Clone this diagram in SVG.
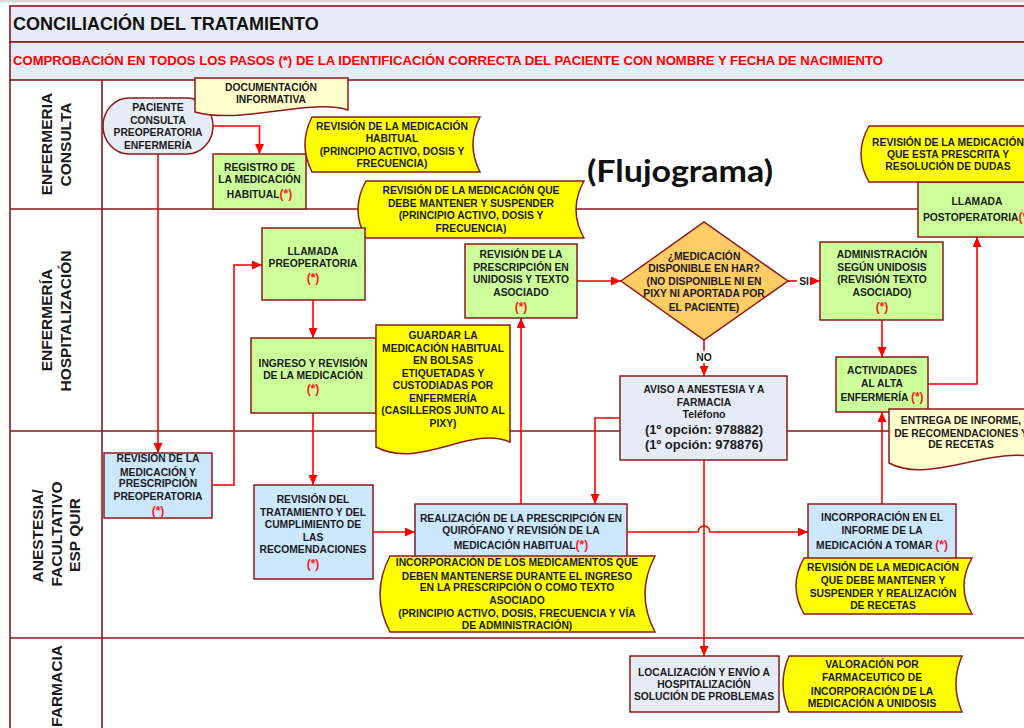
<svg xmlns="http://www.w3.org/2000/svg" width="1024" height="728" viewBox="0 0 1024 728">
<defs>
<style>
.fr{stroke:#8B1A1A;stroke-width:1.6;fill:none}
.n{stroke:#8B1A1A;stroke-width:1.5}
.g{fill:#CCFF99}.b{fill:#CCE8FF}.p{fill:#E6ECF6}.y{fill:#FFFF00}.ly{fill:#FFFFCC}.o{fill:#FFCC66}
text{font-family:"Liberation Sans",Arial,sans-serif;font-weight:bold}
.t{font-size:10.3px;fill:#1a1a1a;text-anchor:middle}
.r{fill:#FF1A1A;font-size:12px}
.big{font-size:13px}
.tel{font-size:10.5px}
.lane{font-size:15.5px;fill:#1a1a1a;text-anchor:middle}
.flu{font-family:Lato,"Open Sans",sans-serif;font-size:30px;fill:#111}
.c{stroke:#FF0000;stroke-width:1.6;fill:none;marker-end:url(#ah)}
</style>
<marker id="ah" markerUnits="userSpaceOnUse" markerWidth="10" markerHeight="9" refX="10" refY="4.5" orient="auto">
<path d="M0,0 L10,4.5 L0,9 Z" fill="#FF0000"/>
</marker>
</defs>
<rect x="0" y="0" width="1024" height="728" fill="#FFFFFF"/>
<rect x="0" y="0" width="1024" height="2.5" fill="#D9D9D9"/>

<g id="frame">
<rect x="10" y="6" width="1030" height="36" class="p" stroke="#8B1A1A" stroke-width="1.6"/>
<rect x="10" y="42" width="1030" height="38" class="p" stroke="#8B1A1A" stroke-width="1.6"/>
<text x="13" y="30" font-size="18" fill="#111">CONCILIACIÓN DEL TRATAMIENTO</text>
<text x="13" y="65" font-size="13" fill="#FF0000" textLength="870" lengthAdjust="spacingAndGlyphs">COMPROBACIÓN EN TODOS LOS PASOS (*) DE LA IDENTIFICACIÓN CORRECTA DEL PACIENTE CON NOMBRE Y FECHA DE NACIMIENTO</text>
<path class="fr" d="M10,80 V728 M102,80 V728 M10,209 H1040 M10,431 H1040 M10,638 H1040"/>
<text class="lane" transform="translate(52,144) rotate(-90)">ENFERMERIA</text>
<text class="lane" transform="translate(71,144.5) rotate(-90)">CONSULTA</text>
<text class="lane" transform="translate(52,320) rotate(-90)">ENFERMERÍA</text>
<text class="lane" transform="translate(71,321) rotate(-90)">HOSPITALIZACIÓN</text>
<text class="lane" transform="translate(43,536) rotate(-90)">ANESTESIA/</text>
<text class="lane" transform="translate(62,534) rotate(-90)">FACULTATIVO</text>
<text class="lane" transform="translate(80,535) rotate(-90)">ESP QUIR</text>
<text class="lane" transform="translate(62,686) rotate(-90)">FARMACIA</text>
<text class="flu" x="587" y="182" textLength="186" lengthAdjust="spacingAndGlyphs">(Flujograma)</text>
</g>

<g id="connectors">
<path class="c" d="M213,126 H259.5 V154"/>
<path class="c" d="M158,154 V453"/>
<path class="c" d="M212,485 H234 V265 H262"/>
<path class="c" d="M313,300 V338"/>
<path class="c" d="M313,413 V485"/>
<path class="c" d="M373,532 H415"/>
<path class="c" d="M521,504 V318"/>
<path class="c" d="M577,281 H621"/>
<path class="c" d="M788,281 H820"/>
<path class="c" d="M704,340 V376"/>
<path class="c" d="M620,418 H595 V504"/>
<path class="c" d="M704,460 V656"/>
<path class="c" d="M627,532 H698 A6,6 0 0 1 710,532 H808"/>
<path class="c" d="M882,504 V412"/>
<path class="c" d="M882,320 V357"/>
<path class="c" d="M928,384 H977 V237"/>
<rect x="797" y="274" width="13" height="13" fill="#FFFFFF"/>
<text class="t" x="804" y="285">SI</text>
<rect x="694" y="351" width="20" height="12" fill="#FFFFFF"/>
<text class="t" x="704" y="361">NO</text>
</g>

<g id="n-paciente">
<rect x="103" y="98" width="110" height="56" rx="26" ry="28" class="n p"/>
<text class="t" x="158" y="111">PACIENTE</text>
<text class="t" x="158" y="123.5">CONSULTA</text>
<text class="t" x="158" y="136">PREOPERATORIA</text>
<text class="t" x="158" y="148.5">ENFERMERÍA</text>
</g>
<g id="n-documentacion">
<path d="M195,78 H348 V110 C310,98 240,125 195,112 Z" class="n ly"/>
<text class="t" x="271" y="91">DOCUMENTACIÓN</text>
<text class="t" x="271" y="103">INFORMATIVA</text>
</g>
<g id="n-registro">
<rect x="213" y="154" width="93" height="55" class="n g"/>
<text class="t" x="259.5" y="171">REGISTRO DE</text>
<text class="t" x="259.5" y="183">LA MEDICACIÓN</text>
<text class="t" x="259.5" y="198">HABITUAL<tspan class="r">(*)</tspan></text>
</g>
<g id="n-rev-habitual">
<path d="M312,117 H480 Q466,144.5 480,172 H312 Q298,144.5 312,117 Z" class="n y"/>
<text class="t" x="392" y="130">REVISIÓN DE LA MEDICACIÓN</text>
<text class="t" x="392" y="142">HABITUAL</text>
<text class="t" x="392" y="154.5">(PRINCIPIO ACTIVO, DOSIS Y</text>
<text class="t" x="392" y="167">FRECUENCIA)</text>
</g>
<g id="n-rev-mantener">
<path d="M366,181 H584 Q568,209.5 584,238 H366 Q350,209.5 366,181 Z" class="n y"/>
<text class="t" x="471" y="194">REVISIÓN DE LA MEDICACIÓN QUE</text>
<text class="t" x="471" y="207">DEBE MANTENER Y SUSPENDER</text>
<text class="t" x="471" y="219">(PRINCIPIO ACTIVO, DOSIS Y</text>
<text class="t" x="471" y="232">FRECUENCIA)</text>
</g>
<g id="n-llamada-post">
<rect x="918" y="182" width="122" height="55" class="n g"/>
<text class="t" x="977" y="205">LLAMADA</text>
<text class="t" x="977" y="221">POSTOPERATORIA<tspan class="r">(*)</tspan></text>
</g>
<g id="n-rev-prescrita">
<path d="M869,126 H1040 V182 H869 Q853,154 869,126 Z" class="n y"/>
<text class="t" x="948" y="146">REVISIÓN DE LA MEDICACIÓN</text>
<text class="t" x="948" y="157.5">QUE ESTA PRESCRITA Y</text>
<text class="t" x="948" y="170">RESOLUCIÓN DE DUDAS</text>
</g>
<g id="n-llamada-pre">
<rect x="262" y="228" width="103" height="72" class="n g"/>
<text class="t" x="313" y="255">LLAMADA</text>
<text class="t" x="313" y="266.5">PREOPERATORIA</text>
<text class="t r" x="313" y="282">(*)</text>
</g>
<g id="n-ingreso">
<rect x="251" y="338" width="125" height="75" class="n g"/>
<text class="t" x="313" y="367">INGRESO Y REVISIÓN</text>
<text class="t" x="313" y="378.5">DE LA MEDICACIÓN</text>
<text class="t r" x="313" y="393">(*)</text>
</g>
<g id="n-guardar">
<path d="M376,325 H510 V442 C470,425 420,470 376,447 Z" class="n y"/>
<text class="t" x="443" y="339">GUARDAR LA</text>
<text class="t" x="443" y="352">MEDICACIÓN HABITUAL</text>
<text class="t" x="443" y="364">EN BOLSAS</text>
<text class="t" x="443" y="377">ETIQUETADAS Y</text>
<text class="t" x="443" y="389">CUSTODIADAS POR</text>
<text class="t" x="443" y="402">ENFERMERÍA</text>
<text class="t" x="443" y="414">(CASILLEROS JUNTO AL</text>
<text class="t" x="443" y="427">PIXY)</text>
</g>
<g id="n-rev-unidosis">
<rect x="465" y="244" width="112" height="74" class="n g"/>
<text class="t" x="521" y="258">REVISIÓN DE LA</text>
<text class="t" x="521" y="271">PRESCRIPCIÓN EN</text>
<text class="t" x="521" y="283">UNIDOSIS Y TEXTO</text>
<text class="t" x="521" y="296">ASOCIADO</text>
<text class="t r" x="521" y="311">(*)</text>
</g>
<g id="n-decision">
<path d="M621,281 L704,222 L788,281 L704,340 Z" class="n o"/>
<text class="t" x="704" y="260">¿MEDICACIÓN</text>
<text class="t" x="704" y="272">DISPONIBLE EN HAR?</text>
<text class="t" x="704" y="285">(NO DISPONIBLE NI EN</text>
<text class="t" x="704" y="297">PIXY NI APORTADA POR</text>
<text class="t" x="704" y="311">EL PACIENTE)</text>
</g>
<g id="n-administracion">
<rect x="820" y="242" width="123" height="78" class="n g"/>
<text class="t" x="882" y="258">ADMINISTRACIÓN</text>
<text class="t" x="882" y="271">SEGÚN UNIDOSIS</text>
<text class="t" x="882" y="283">(REVISIÓN TEXTO</text>
<text class="t" x="882" y="296">ASOCIADO)</text>
<text class="t r" x="882" y="311">(*)</text>
</g>
<g id="n-actividades">
<rect x="836" y="357" width="92" height="55" class="n g"/>
<text class="t" x="882" y="374">ACTIVIDADES</text>
<text class="t" x="882" y="387">AL ALTA</text>
<text class="t" x="882" y="401">ENFERMERÍA <tspan class="r">(*)</tspan></text>
</g>
<g id="n-entrega">
<path d="M889,409 H1040 V458 C990,445 930,485 889,463 Z" class="n ly"/>
<text class="t" x="961" y="424">ENTREGA DE INFORME,</text>
<text class="t" x="961" y="437">DE RECOMENDACIONES Y</text>
<text class="t" x="961" y="448">DE RECETAS</text>
</g>
<g id="n-aviso">
<rect x="620" y="376" width="167" height="84" class="n p"/>
<text class="t" x="704" y="393">AVISO A ANESTESIA Y A</text>
<text class="t" x="704" y="406">FARMACIA</text>
<text class="t tel" x="704" y="418">Teléfono</text>
<text class="t big" x="704" y="434">(1º opción: 978882)</text>
<text class="t big" x="704" y="449">(1º opción: 978876)</text>
</g>
<g id="n-rev-preop">
<rect x="104" y="453" width="108" height="65" class="n b"/>
<text class="t" x="158" y="462">REVISIÓN DE LA</text>
<text class="t" x="158" y="475.5">MEDICACIÓN Y</text>
<text class="t" x="158" y="487">PRESCRIPCIÓN</text>
<text class="t" x="158" y="500">PREOPERATORIA</text>
<text class="t r" x="158" y="515">(*)</text>
</g>
<g id="n-rev-tratamiento">
<rect x="254" y="485" width="119" height="94" class="n b"/>
<text class="t" x="313" y="503">REVISIÓN DEL</text>
<text class="t" x="313" y="516">TRATAMIENTO Y DEL</text>
<text class="t" x="313" y="528">CUMPLIMIENTO DE</text>
<text class="t" x="313" y="541">LAS</text>
<text class="t" x="313" y="553">RECOMENDACIONES</text>
<text class="t r" x="313" y="568">(*)</text>
</g>
<g id="n-realizacion">
<rect x="415" y="504" width="212" height="53" class="n b"/>
<text class="t" x="521" y="522">REALIZACIÓN DE LA PRESCRIPCIÓN EN</text>
<text class="t" x="521" y="534">QUIRÓFANO Y REVISIÓN DE LA</text>
<text class="t" x="521" y="549">MEDICACIÓN HABITUAL<tspan class="r">(*)</tspan></text>
</g>
<g id="n-incorporacion-med">
<path d="M390,556 H655 Q635,594 655,632 H390 Q370,594 390,556 Z" class="n y"/>
<text class="t" x="517" y="566">INCORPORACIÓN DE LOS MEDICAMENTOS QUE</text>
<text class="t" x="517" y="579.5">DEBEN MANTENERSE DURANTE EL INGRESO</text>
<text class="t" x="517" y="591">EN LA PRESCRIPCIÓN O COMO TEXTO</text>
<text class="t" x="517" y="604">ASOCIADO</text>
<text class="t" x="517" y="617">(PRINCIPIO ACTIVO, DOSIS, FRECUENCIA Y VÍA</text>
<text class="t" x="517" y="629">DE ADMINISTRACIÓN)</text>
</g>
<g id="n-incorporacion-informe">
<rect x="808" y="504" width="148" height="56" class="n b"/>
<text class="t" x="882" y="521">INCORPORACIÓN EN EL</text>
<text class="t" x="882" y="534">INFORME DE LA</text>
<text class="t" x="882" y="549">MEDICACIÓN A TOMAR <tspan class="r">(*)</tspan></text>
</g>
<g id="n-rev-recetas">
<path d="M804,558 H972 Q956,586 972,614 H804 Q788,586 804,558 Z" class="n y"/>
<text class="t" x="883" y="571">REVISIÓN DE LA MEDICACIÓN</text>
<text class="t" x="883" y="584">QUE DEBE MANTENER Y</text>
<text class="t" x="883" y="597">SUSPENDER Y REALIZACIÓN</text>
<text class="t" x="883" y="609">DE RECETAS</text>
</g>
<g id="n-localizacion">
<rect x="630" y="656" width="149" height="56" class="n p"/>
<text class="t" x="704" y="676">LOCALIZACIÓN Y ENVÍO A</text>
<text class="t" x="704" y="688">HOSPITALIZACIÓN</text>
<text class="t" x="704" y="700">SOLUCIÓN DE PROBLEMAS</text>
</g>
<g id="n-valoracion">
<path d="M789,656 H962 Q950,684 962,712 H789 Q777,684 789,656 Z" class="n y"/>
<text class="t" x="872" y="668">VALORACIÓN POR</text>
<text class="t" x="872" y="681">FARMACEUTICO DE</text>
<text class="t" x="872" y="694.5">INCORPORACIÓN DE LA</text>
<text class="t" x="872" y="707">MEDICACIÓN A UNIDOSIS</text>
</g>
</svg>
